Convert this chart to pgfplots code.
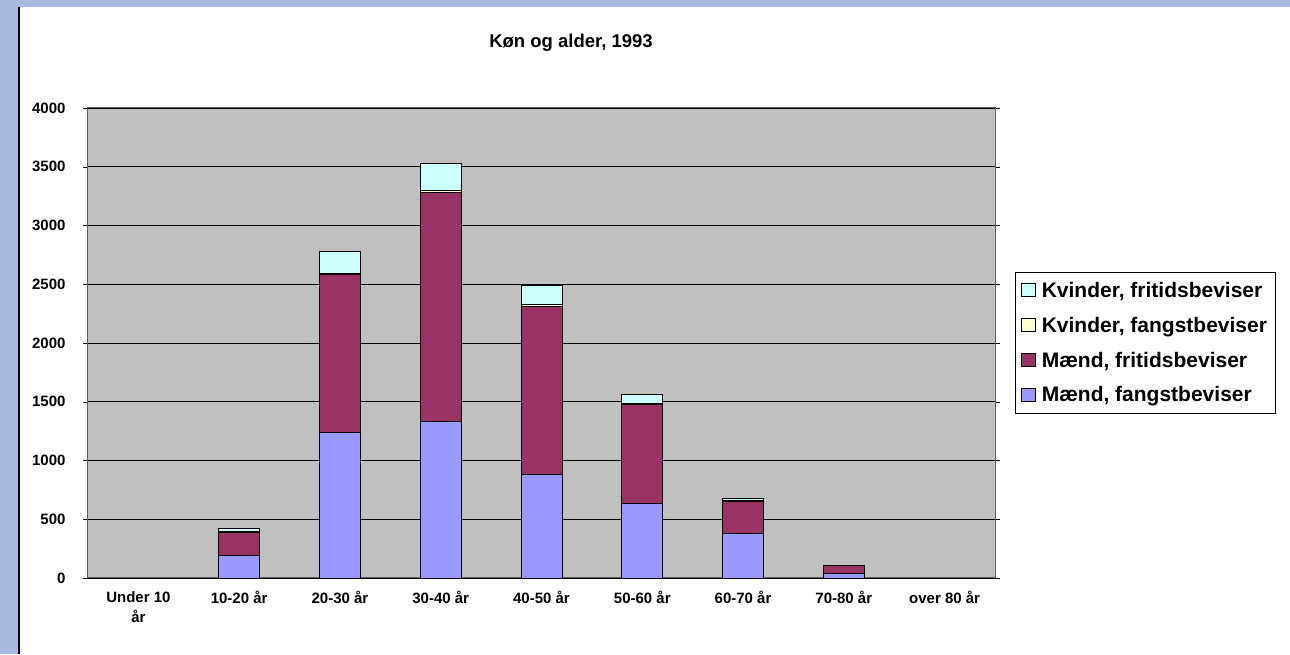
\documentclass[border=0pt]{standalone}
\usepackage{fontspec}
\setmainfont{Liberation Sans}
\usepackage{pgfplots}
\pgfplotsset{compat=1.18}
\definecolor{mfang}{HTML}{9999FF}
\definecolor{mfri}{HTML}{993366}
\definecolor{kfang}{HTML}{FFFFCC}
\definecolor{kfri}{HTML}{CCFFFF}
\definecolor{plotbg}{HTML}{C0C0C0}
\definecolor{bgblue}{HTML}{A9B8DF}
\pgfplotstableread{
x MF MFr KF KFr
0 0 0 0 0
1 195 195 5 25
2 1235 1345 10 190
3 1330 1950 20 230
4 880 1430 15 165
5 635 845 10 70
6 380 275 5 15
7 40 65 0 0
8 0 0 0 0
}\data
\begin{document}
\begin{tikzpicture}
\fill[bgblue] (0pt,0pt) rectangle (1290pt,654pt);
\fill[white] (19pt,0pt) rectangle (1290pt,647pt);
\draw[black, line width=1.5pt] (19pt,0pt) -- (19pt,647pt);
\path[use as bounding box] (0pt,0pt) rectangle (1290pt,654pt);
\node[font=\fontsize{18.5}{22}\selectfont\bfseries] at (571pt,611pt) {Køn og alder, 1993};
\begin{axis}[
  at={(88pt,76pt)}, anchor=south west,
  width=907pt, height=470pt, scale only axis,
  ybar stacked, bar width=41pt,
  xmin=-0.5, xmax=8.5, ymin=0, ymax=4000,
  ytick={0,500,...,4000},
  xtick={0,...,8},
  xticklabels={{Under 10\\år},{10-20 år},{20-30 år},{30-40 år},{40-50 år},{50-60 år},{60-70 år},{70-80 år},{over 80 år}},
  x tick style={draw=none},
  extra x ticks={-0.5,0.5,...,8.5},
  extra x tick labels={},
  extra x tick style={tick style={draw=black}, grid=none, major tick length=5pt},
  tick align=outside, major tick length=5pt,
  y tick style={black},
  ymajorgrids, major grid style={black, line width=0.8pt},
  axis background/.style={fill=plotbg},
  axis line style={draw=gray!75!black, line width=1pt},
  /pgf/number format/.cd, 1000 sep={}, assume math mode=true,
  /pgfplots/.cd,
  ticklabel style={font=\fontsize{15}{20}\selectfont\bfseries},
  xticklabel style={align=center, yshift=-5pt},
  yticklabel style={xshift=-14pt},
  every axis plot/.append style={draw=black, line width=0.8pt},
  reverse legend,
  legend image code/.code={\draw[#1] (0pt,-6pt) rectangle (14pt,7pt); \path[draw=none,fill=none] (0pt,0pt) -- (18pt,0pt);},
  legend style={at={(axis description cs:1.022,0.651)}, anchor=north west, draw=black, fill=white,
    font=\fontsize{21}{24}\selectfont\bfseries, row sep=14pt, inner xsep=6pt, inner ysep=8pt,
    cells={anchor=west}, line width=0.8pt},
]
\addplot[fill=mfang] table[x=x,y=MF] {\data};
\addplot[fill=mfri] table[x=x,y=MFr] {\data};
\addplot[fill=kfang] table[x=x,y=KF] {\data};
\addplot[fill=kfri] table[x=x,y=KFr] {\data};
\legend{{Mænd, fangstbeviser},{Mænd, fritidsbeviser},{Kvinder, fangstbeviser},{Kvinder, fritidsbeviser}}
\end{axis}
\end{tikzpicture}
\end{document}
